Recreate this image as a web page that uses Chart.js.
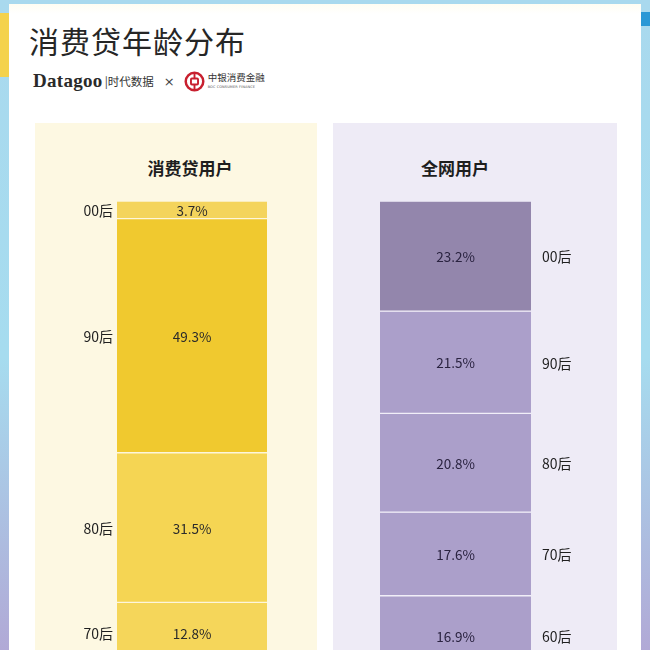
<!DOCTYPE html>
<html lang="zh">
<head>
    <meta charset="UTF-8">
    <title>消费贷年龄分布</title>
    <style>
        html, body {
            margin: 0;
            padding: 0;
            width: 650px;
            height: 650px;
            overflow: hidden;
        }

        body {
            position: relative;
            font-family: 'Noto Sans CJK SC', 'Noto Sans', sans-serif;
            background: linear-gradient(180deg, #a9d9ee 0%, #a6dcef 55%, #b1a9d6 100%);
        }

        .stripe-yellow {
            position: absolute;
            left: 0; top: 13px;
            width: 9px; height: 64px;
            background: #f4d24c;
        }

        .stripe-blue {
            position: absolute;
            right: 0; top: 12px;
            width: 9px; height: 14px;
            background: #2a98d6;
        }

        .card {
            position: absolute;
            left: 9px; top: 4px;
            width: 632px; height: 660px;
            background: linear-gradient(180deg, #fffdf2 0px, #ffffff 10px);
        }

        .title {
            position: absolute;
            left: 29px; top: 18px;
            font-size: 30px;
            color: #262626;
            letter-spacing: 1px;
            white-space: nowrap;
        }

        .brand {
            position: absolute;
            left: 33px; top: 68px;
            height: 26px;
            display: flex;
            align-items: center;
            white-space: nowrap;
            color: #2a2a2a;
        }

        .brand .dg {
            font-family: 'Liberation Serif', 'DejaVu Serif', serif;
            font-weight: bold;
            font-size: 19px;
            letter-spacing: 0.3px;
        }

        .brand .cn {
            font-family: 'Noto Sans CJK SC', serif;
            font-size: 11.5px;
            margin-left: 2px;
            color: #333;
        }

        .brand .x {
            font-family: 'DejaVu Sans', sans-serif;
            font-size: 13px;
            margin: 0 9px 0 10px;
            color: #444;
        }

        .brand .boc {
            display: flex;
            flex-direction: column;
            margin-left: 3px;
            line-height: 1;
        }

        .brand .boc .n1 {
            font-size: 9.5px;
            color: #333;
        }

        .brand .boc .n2 {
            font-family: 'DejaVu Sans', sans-serif;
            font-size: 3.5px;
            color: #555;
            margin-top: 3px;
            letter-spacing: 0.1px;
        }

        .panel {
            position: absolute;
            top: 123px;
            height: 540px;
        }

        .panel.left {
            left: 35px; width: 282px;
            background: #fdf8e2;
        }

        .panel.right {
            left: 333px; width: 284px;
            background: #eeebf6;
        }

        .panel-title {
            position: absolute;
            top: 155px;
            font-size: 17px;
            font-weight: bold;
            color: #1e1e1e;
            transform: translateX(-50%);
            white-space: nowrap;
        }

        canvas {
            position: absolute;
            top: 195px;
        }

        #loanChart { left: 35px; }
        #netChart { left: 333px; }
    </style>
    <script src="https://cdn.jsdelivr.net/npm/chart.js"></script>
</head>
<body>
    <div class="stripe-yellow"></div>
    <div class="stripe-blue"></div>
    <div class="card"></div>

    <div class="title">消费贷年龄分布</div>
    <div class="brand">
        <span class="dg">Datagoo</span>
        <span class="cn">|时代数据</span>
        <span class="x">×</span>
        <svg width="21" height="21" viewBox="0 0 22 22">
            <circle cx="11" cy="11" r="9.2" fill="none" stroke="#c8202f" stroke-width="2.6"/>
            <rect x="7.3" y="7.8" width="7.4" height="6.4" rx="1" fill="none" stroke="#c8202f" stroke-width="2"/>
            <line x1="11" y1="2" x2="11" y2="7.8" stroke="#c8202f" stroke-width="2"/>
            <line x1="11" y1="14.2" x2="11" y2="20" stroke="#c8202f" stroke-width="2"/>
        </svg>
        <span class="boc">
            <span class="n1">中银消费金融</span>
            <span class="n2">BOC CONSUMER FINANCE</span>
        </span>
    </div>

    <div class="panel left"></div>
    <div class="panel right"></div>
    <div class="panel-title" style="left: 190px;">消费贷用户</div>
    <div class="panel-title" style="left: 455px;">全网用户</div>

    <canvas id="loanChart" width="282" height="490"></canvas>
    <canvas id="netChart" width="284" height="490"></canvas>

    <script>
        // 消费贷用户 (top to bottom)
        const loanAges = ['00后', '90后', '80后', '70后'];
        const loanShares = [3.7, 49.3, 31.5, 12.8];
        const loanColors = ['#f4d45c', '#f0c92f', '#f5d553', '#f5d65a'];

        // 全网用户 (top to bottom)
        const netAges = ['00后', '90后', '80后', '70后', '60后'];
        const netShares = [23.2, 21.5, 20.8, 17.6, 16.9];
        const netColors = ['#9386ac', '#ab9fca', '#ab9fca', '#ab9fca', '#ab9fca'];

        const cjk = "'Noto Sans CJK SC', sans-serif";

        // writes the value inside each segment and the age group beside it
        const segmentLabels = {
            id: 'segmentLabels',
            afterDatasetsDraw(chart, args, opts) {
                const ctx = chart.ctx;
                const area = chart.chartArea;
                ctx.save();
                chart.data.datasets.forEach((ds, i) => {
                    const bar = chart.getDatasetMeta(i).data[0];
                    const p = bar.getProps(['x', 'y', 'base', 'width'], true);
                    const top = Math.max(Math.min(p.y, p.base), area.top);
                    const bottom = Math.min(Math.max(p.y, p.base), area.bottom);
                    const cy = (top + bottom) / 2;

                    ctx.textBaseline = 'middle';
                    ctx.font = '13.5px ' + cjk;
                    ctx.fillStyle = opts.valueColor;
                    ctx.textAlign = 'center';
                    ctx.fillText(ds.data[0].toFixed(1) + '%', p.x, cy + 1);

                    ctx.font = '14px ' + cjk;
                    ctx.fillStyle = '#1f1f1f';
                    if (opts.side === 'left') {
                        ctx.textAlign = 'right';
                        ctx.fillText(ds.label, p.x - p.width / 2 - 4, cy + 1);
                    } else {
                        ctx.textAlign = 'left';
                        ctx.fillText(ds.label, p.x + p.width / 2 + 11, cy + 1);
                    }
                });
                ctx.restore();
            }
        };

        function makeChart(id, ages, shares, colors, gapColor, padding, side, valueColor) {
            return new Chart(document.getElementById(id), {
                type: 'bar',
                data: {
                    labels: [''],
                    datasets: ages.map((age, i) => ({
                        label: age,
                        data: [shares[i]],
                        backgroundColor: colors[i],
                        borderColor: gapColor,
                        borderWidth: { top: 1, bottom: 1, left: 0, right: 0 },
                        borderSkipped: false,
                        barPercentage: 1,
                        categoryPercentage: 1
                    }))
                },
                options: {
                    responsive: false,
                    animation: false,
                    layout: { padding: padding },
                    plugins: {
                        legend: { display: false },
                        tooltip: { enabled: false },
                        segmentLabels: { side: side, valueColor: valueColor }
                    },
                    scales: {
                        x: { stacked: true, display: false },
                        y: { stacked: true, display: false, min: 0, max: 100, reverse: true }
                    }
                },
                plugins: [segmentLabels]
            });
        }

        makeChart('loanChart', loanAges, loanShares, loanColors, '#fdf6dc',
            { left: 82, right: 50, top: 6, bottom: 9 }, 'left', '#2b2b2b');
        makeChart('netChart', netAges, netShares, netColors, '#f1eef8',
            { left: 47, right: 86, top: 6, bottom: 9 }, 'right', '#2a2340');
    </script>
</body>
</html>
